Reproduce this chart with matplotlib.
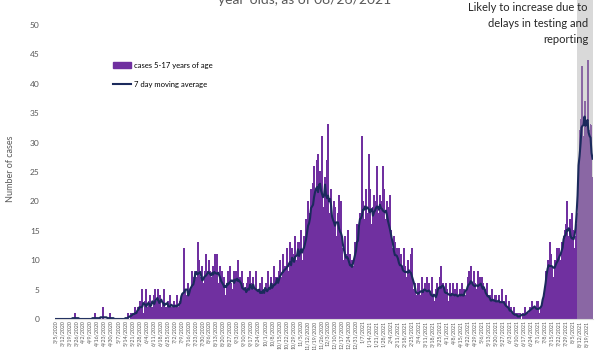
import pandas as pd
import matplotlib.pyplot as plt
from matplotlib.patches import Patch
from matplotlib.lines import Line2D

plt.rcParams['font.family'] = ['Lato', 'DejaVu Sans']

start_date = "2020-03-05"
shade_from = "2021-08-10"

# daily cases among 5-17 year-olds, one row per week
cases_spring_2020 = [
    0, 0, 0, 0, 0, 0, 0,
    0, 0, 0, 0, 0, 0, 0,
    0, 0, 0, 0, 0, 0, 1,
    0, 0, 0, 0, 0, 0, 0,
    0, 0, 0, 0, 0, 0, 0,
    0, 0, 0, 0, 0, 1, 0,
    0, 0, 0, 0, 0, 0, 2,
    0, 0, 0, 0, 0, 0, 1,
    0, 0, 0, 0, 0, 0, 0,
    0, 0, 0, 0, 0, 0, 0,
    0, 0, 0, 1, 0, 0, 1,
]
cases_summer_2020 = [
    1, 0, 1, 2, 1, 0, 2,
    1, 3, 2, 5, 1, 0, 3,
    5, 2, 1, 3, 4, 1, 2,
    2, 4, 5, 1, 3, 5, 3,
    4, 1, 2, 3, 5, 2, 2,
    1, 3, 2, 4, 1, 2, 2,
    3, 2, 1, 4, 2, 1, 3,
    3, 4, 2, 12, 5, 2, 4,
    6, 4, 2, 5, 8, 7, 6,
    8, 5, 7, 13, 10, 4, 7,
    9, 6, 2, 8, 11, 7, 8,
    10, 8, 4, 7, 9, 6, 11,
    8, 11, 3, 6, 9, 7, 8,
    5, 7, 1, 4, 6, 8, 7,
]
cases_fall_2020 = [
    9, 6, 3, 5, 8, 7, 8,
    6, 10, 2, 7, 5, 8, 6,
    4, 5, 1, 6, 7, 3, 8,
    6, 4, 7, 3, 5, 8, 4,
    5, 3, 6, 2, 7, 4, 5,
    4, 6, 3, 8, 5, 2, 7,
    6, 5, 9, 3, 7, 4, 7,
    8, 10, 4, 7, 11, 6, 9,
    9, 12, 5, 8, 13, 7, 12,
    11, 8, 14, 6, 10, 13, 13,
    12, 15, 6, 10, 14, 9, 17,
]
cases_winter_2021 = [
    14, 20, 11, 18, 22, 12, 23,
    26, 22, 13, 27, 28, 16, 25,
    20, 31, 14, 19, 24, 12, 27,
    33, 18, 11, 22, 17, 15, 20,
    19, 14, 8, 18, 21, 15, 20,
    12, 10, 6, 14, 11, 9, 15,
    8, 11, 4, 10, 7, 9, 13,
    12, 16, 9, 15, 18, 10, 31,
    20, 17, 12, 22, 18, 14, 28,
    22, 16, 10, 19, 21, 15, 20,
    26, 18, 13, 21, 20, 12, 26,
    22, 17, 11, 20, 19, 14, 21,
    15, 12, 6, 14, 13, 9, 12,
    10, 12, 5, 11, 8, 6, 12,
    9, 7, 4, 10, 8, 6, 11,
]
cases_spring_2021 = [
    12, 5, 3, 6, 4, 2, 6,
    6, 4, 2, 7, 5, 3, 6,
    5, 7, 2, 6, 4, 3, 7,
    4, 3, 1, 5, 6, 2, 5,
    7, 9, 3, 6, 5, 4, 6,
    5, 3, 2, 6, 4, 3, 6,
    4, 5, 1, 6, 3, 4, 5,
    3, 6, 2, 5, 4, 3, 5,
    7, 8, 3, 9, 6, 4, 8,
    6, 5, 2, 8, 7, 4, 7,
    7, 6, 3, 5, 4, 6, 4,
    3, 4, 1, 5, 2, 3, 4,
    4, 3, 1, 4, 2, 3, 5,
    2, 3, 1, 4, 2, 1, 3,
    1, 2, 0, 1, 2, 0, 1,
    0, 1, 0, 1, 0, 0, 1,
    1, 2, 0, 1, 0, 1, 2,
    2, 3, 1, 2, 1, 2, 3,
    3, 1, 0, 2, 1, 3, 4,
]
cases_summer_2021 = [
    5, 8, 4, 10, 9, 13, 11,
    9, 7, 4, 10, 8, 12, 11,
    12, 10, 6, 13, 11, 14, 15,
    16, 20, 10, 14, 17, 13, 18,
    15, 12, 7, 14, 16, 18, 26,
    32, 34, 43, 25, 31, 37, 28,
    33, 44, 32, 30, 33, 22, 24,
]

cases = (cases_spring_2020 + cases_summer_2020 + cases_fall_2020
         + cases_winter_2021 + cases_spring_2021 + cases_summer_2021)
dates = pd.date_range(start_date, periods=len(cases), freq="D")
df = pd.DataFrame({"date": dates, "cases": cases})
df["ma7"] = df["cases"].rolling(7, center=True, min_periods=1).mean()
df["x"] = range(len(df))

purple = "#7030A0"
navy = "#1B2A5C"
grey_text = "#595959"

fig = plt.figure(figsize=(6, 3.5), dpi=100)
ax = fig.add_axes([0.0917, 0.0886, 0.8967, 0.9114])

# bars are about one pixel wide: no snapping (some would vanish) and no
# antialiasing (neighbours would wash each other out)
ax.bar(df["x"], df["cases"], width=1.0, color=purple, linewidth=0,
       snap=False, antialiased=False, zorder=2)

# recent days still filling in
shade_start = df.loc[df["date"] == pd.Timestamp(shade_from), "x"].iloc[0]
ax.axvspan(shade_start - 0.5, df["x"].iloc[-1] + 0.5, color="#ababab",
           alpha=0.45, linewidth=0, zorder=3)

ax.plot(df["x"], df["ma7"], color=navy, linewidth=1.5, zorder=4)

ax.set_xlim(-0.5, len(df) - 0.5)
ax.set_ylim(0, 54.25)
ax.set_yticks(range(0, 51, 5))
ax.tick_params(axis="y", length=0, labelsize=6, labelcolor=grey_text, pad=11)

tick_pos = df["x"][::7]
tick_lab = [f"{d.month}/{d.day}/{d.year}" for d in df["date"][::7]]
ax.set_xticks(tick_pos)
ax.set_xticklabels(tick_lab, rotation=90, fontsize=3.8, color=grey_text)
ax.tick_params(axis="x", length=0, pad=1)

for side in ["top", "right", "left"]:
    ax.spines[side].set_visible(False)
ax.spines["bottom"].set_color("#d9d9d9")
ax.spines["bottom"].set_zorder(5)

ax.set_ylabel("Number of cases", fontsize=6.5, color=grey_text)
ax.yaxis.set_label_coords(-0.074, 0.47)

handles = [Patch(color=purple, label="cases 5-17 years of age"),
           Line2D([0], [0], color=navy, linewidth=1.5, label="7 day moving average")]
ax.legend(handles=handles, loc="center left", bbox_to_anchor=(0.107, 0.766),
          frameon=False, fontsize=5.5, handlelength=2.4, handleheight=0.9,
          handletextpad=0.4, labelspacing=1.6, borderaxespad=0, borderpad=0)

fig.text(0.507, 1.0, "year-olds, as of 08/26/2021", ha="center", va="center",
         fontsize=10, color=grey_text)
ax.text(0.98, 0.993, "Likely to increase due to\ndelays in testing and\nreporting",
        transform=fig.transFigure, ha="right", va="top", fontsize=8,
        color="#262626", linespacing=1.55)

fig.savefig("out.png", dpi=100)
